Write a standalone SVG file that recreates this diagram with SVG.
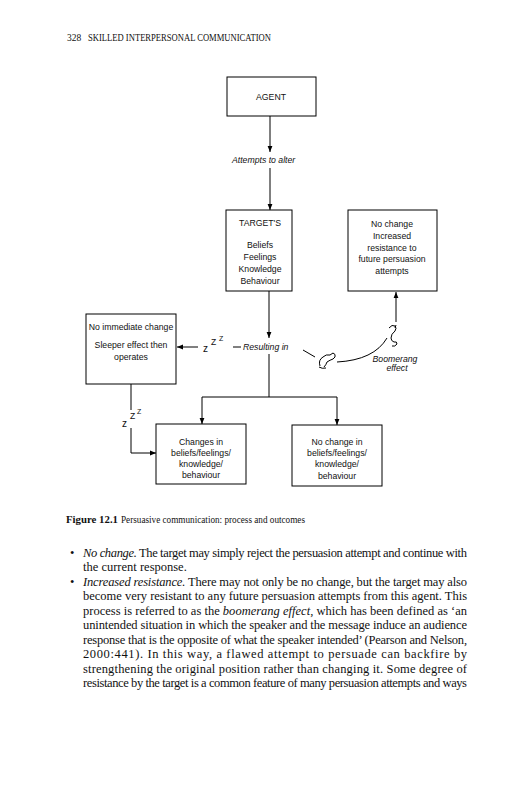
<svg xmlns="http://www.w3.org/2000/svg" width="531" height="800" viewBox="0 0 531 800">
<defs>
<marker id="ah" viewBox="0 0 10 10" refX="10" refY="5" markerWidth="6" markerHeight="6" orient="auto" markerUnits="userSpaceOnUse">
<path d="M0,1 L10,5 L0,9 Z" fill="#000"/>
</marker>
</defs>
<style>
.box{fill:#fff;stroke:#000;stroke-width:1}
.t{font-family:"Liberation Sans",Arial,sans-serif;font-size:8.7px;fill:#111;text-anchor:middle}
.it{font-family:"Liberation Sans",Arial,sans-serif;font-size:8.7px;font-style:italic;fill:#111}
.z{font-family:"Liberation Sans",Arial,sans-serif;fill:#111}
.ln{fill:none;stroke:#000;stroke-width:1}
.ar{fill:none;stroke:#000;stroke-width:1;marker-end:url(#ah)}
.body{font-family:"Liberation Serif","Times New Roman",serif;font-size:12.5px;fill:#111}
.cap{font-family:"Liberation Serif","Times New Roman",serif;font-size:10.5px;fill:#111}
.hdr{font-family:"Liberation Serif","Times New Roman",serif;font-size:9.5px;fill:#111}
</style>
<rect width="531" height="800" fill="#fff"/>

<g id="header">
<text class="hdr" x="67" y="41">328</text>
<text class="hdr" x="88" y="41" textLength="183" lengthAdjust="spacingAndGlyphs">SKILLED INTERPERSONAL COMMUNICATION</text>
</g>

<g id="connectors">
<line class="ar" x1="270" y1="116" x2="270" y2="152"/>
<line class="ar" x1="270" y1="168" x2="270" y2="210"/>
<line class="ar" x1="269" y1="291" x2="269" y2="338"/>
<line class="ln" x1="269" y1="354" x2="269" y2="397"/>
<line class="ln" x1="202" y1="397" x2="337" y2="397"/>
<line class="ar" x1="202" y1="397" x2="202" y2="424"/>
<line class="ar" x1="337" y1="397" x2="337" y2="425"/>
<line class="ln" x1="233" y1="347" x2="241" y2="347"/>
<line class="ar" x1="198" y1="347" x2="177" y2="347"/>
<line class="ln" x1="131" y1="384" x2="131" y2="410"/>
<polyline class="ar" points="131,428 131,453 156,453"/>
<line class="ln" x1="303" y1="350" x2="315" y2="357"/>
<path class="ln" d="M337,362 Q374,360 387,338"/>
<line class="ar" x1="396" y1="322" x2="396" y2="292"/>
<path class="ln" d="M320,366 q-2,-6 3,-9 q3,-3 7,-2 l3,-2 q3,1 2,4 l-2,2 q-3,1 -6,3 q-1,3 -3,5 M319,367 q3,2 7,1" stroke-width="0.8"/>
<path class="ln" d="M389,328 q3,-4 6,-2 q2,2 0,5 q-4,3 -4,7 q0,3 3,4 q3,-1 3,2 q-2,3 -5,2 M395,328 l1,-3" stroke-width="0.8"/>
</g>

<g id="labels">
<text class="it" x="232" y="163">Attempts to alter</text>
<text class="it" x="243" y="350">Resulting in</text>
<text class="z" x="203" y="352" font-size="10">z</text>
<text class="z" x="211" y="345" font-size="8.5">Z</text>
<text class="z" x="219" y="341" font-size="7">Z</text>
<text class="z" x="122" y="427" font-size="10">z</text>
<text class="z" x="130" y="419" font-size="8.5">Z</text>
<text class="z" x="137" y="414" font-size="7">Z</text>
<text class="it" x="395" y="362" font-size="5.8" text-anchor="middle">Boomerang</text>
<text class="it" x="397" y="370.5" font-size="5.8" text-anchor="middle">effect</text>
</g>

<g id="agent">
<rect class="box" x="227" y="77" width="89" height="39"/>
<text class="t" x="271" y="100">AGENT</text>
</g>

<g id="target">
<rect class="box" x="226" y="210" width="66" height="81"/>
<text class="t" x="260" y="226">TARGET'S</text>
<text class="t" x="260" y="248">Beliefs</text>
<text class="t" x="260" y="260">Feelings</text>
<text class="t" x="260" y="272">Knowledge</text>
<text class="t" x="260" y="284">Behaviour</text>
</g>

<g id="resistance">
<rect class="box" x="348" y="210" width="89" height="81"/>
<text class="t" x="392" y="227">No change</text>
<text class="t" x="392" y="239">Increased</text>
<text class="t" x="392" y="251">resistance to</text>
<text class="t" x="392" y="262">future persuasion</text>
<text class="t" x="392" y="274">attempts</text>
</g>

<g id="sleeper">
<rect class="box" x="86" y="314" width="90" height="70"/>
<text class="t" x="131" y="330">No immediate change</text>
<text class="t" x="131" y="348">Sleeper effect then</text>
<text class="t" x="131" y="360">operates</text>
</g>

<g id="changes">
<rect class="box" x="156" y="424" width="90" height="60"/>
<text class="t" x="201" y="445">Changes in</text>
<text class="t" x="201" y="456">beliefs/feelings/</text>
<text class="t" x="201" y="467">knowledge/</text>
<text class="t" x="201" y="478">behaviour</text>
</g>

<g id="nochange">
<rect class="box" x="292" y="425" width="90" height="61"/>
<text class="t" x="337" y="445">No change in</text>
<text class="t" x="337" y="456">beliefs/feelings/</text>
<text class="t" x="337" y="467">knowledge/</text>
<text class="t" x="337" y="479">behaviour</text>
</g>

<g id="caption">
<text class="cap" x="66" y="523" font-weight="bold" font-size="11.5" textLength="52" lengthAdjust="spacingAndGlyphs">Figure 12.1</text>
<text class="cap" x="121" y="523" textLength="184" lengthAdjust="spacingAndGlyphs">Persuasive communication: process and outcomes</text>
</g>

<g id="bodytext">
<text class="body" x="70" y="557">•</text>
<text class="body" x="83" y="557" textLength="384" lengthAdjust="spacing"><tspan font-style="italic">No change.</tspan> The target may simply reject the persuasion attempt and continue with</text>
<text class="body" x="83" y="571.4">the current response.</text>
<text class="body" x="70" y="585.9">•</text>
<text class="body" x="83" y="585.9" textLength="384" lengthAdjust="spacing"><tspan font-style="italic">Increased resistance.</tspan> There may not only be no change, but the target may also</text>
<text class="body" x="83" y="600.3" textLength="384" lengthAdjust="spacing">become very resistant to any future persuasion attempts from this agent. This</text>
<text class="body" x="83" y="614.8" textLength="384" lengthAdjust="spacing">process is referred to as the <tspan font-style="italic">boomerang effect,</tspan> which has been defined as ‘an</text>
<text class="body" x="83" y="629.2" textLength="384" lengthAdjust="spacing">unintended situation in which the speaker and the message induce an audience</text>
<text class="body" x="83" y="643.6" textLength="384" lengthAdjust="spacing">response that is the opposite of what the speaker intended’ (Pearson and Nelson,</text>
<text class="body" x="83" y="658.1" textLength="384" lengthAdjust="spacing">2000:441). In this way, a flawed attempt to persuade can backfire by</text>
<text class="body" x="83" y="672.5" textLength="384" lengthAdjust="spacing">strengthening the original position rather than changing it. Some degree of</text>
<text class="body" x="83" y="687" textLength="384" lengthAdjust="spacing">resistance by the target is a common feature of many persuasion attempts and  ways</text>
</g>
</svg>
